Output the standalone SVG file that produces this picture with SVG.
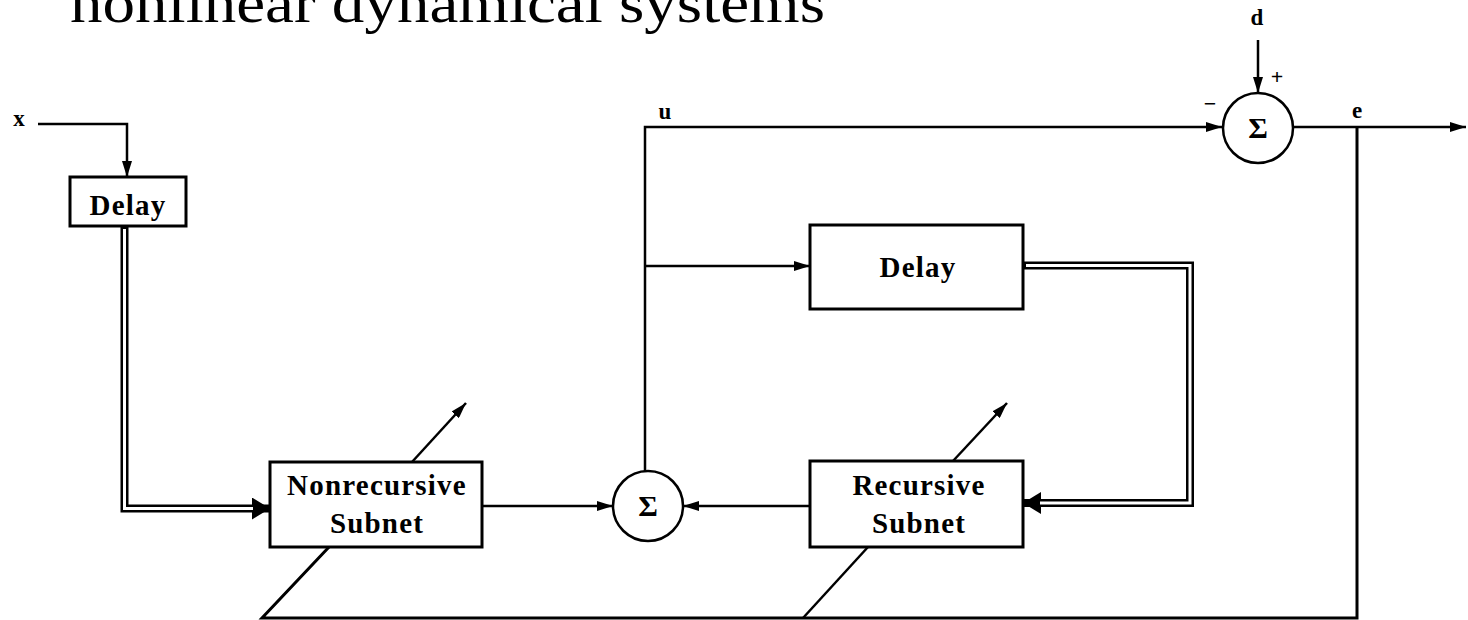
<svg xmlns="http://www.w3.org/2000/svg" width="1468" height="620" viewBox="0 0 1468 620">
  <style>
    .ln { fill: none; stroke: #000; stroke-width: 2.5; stroke-linejoin: miter; }
    .box { fill: #fff; stroke: #000; stroke-width: 3; }
    .sum { fill: #fff; stroke: #000; stroke-width: 2.5; }
    .dblk { fill: none; stroke: #000; stroke-width: 8; stroke-linejoin: miter; }
    .dwht { fill: none; stroke: #fff; stroke-width: 3; stroke-linejoin: miter; }
    .lbl { font-family: "Liberation Serif", "Times New Roman", serif; font-weight: bold; font-size: 29px; letter-spacing: 1.2px; text-anchor: middle; fill: #000; }
    .sig { font-family: "Liberation Serif", "Times New Roman", serif; font-weight: bold; font-size: 30px; text-anchor: middle; fill: #000; }
    .sm { font-family: "Liberation Serif", "Times New Roman", serif; font-weight: bold; font-size: 23px; text-anchor: middle; fill: #000; }
    .title { font-family: "Liberation Serif", "Times New Roman", serif; font-size: 56px; fill: #000; }
  </style>
  <defs>
    <marker id="arr" markerUnits="userSpaceOnUse" markerWidth="16" markerHeight="10" refX="16" refY="5" orient="auto">
      <path d="M0,0 L16,5 L0,10 Z" fill="#000"/>
    </marker>
    <marker id="arrBig" markerUnits="userSpaceOnUse" markerWidth="18" markerHeight="22" refX="18" refY="11" orient="auto">
      <path d="M0,0 L18,11 L0,22 Z" fill="#000"/>
    </marker>
  </defs>

  <text class="title" x="70" y="22" textLength="755" lengthAdjust="spacingAndGlyphs">nonlinear dynamical systems</text>

  <g id="connectors">
    <path class="ln" d="M38,124 H127 V177" marker-end="url(#arr)"/>
    <path class="ln" d="M1258,40 V93" marker-end="url(#arr)"/>
    <path class="ln" d="M645,471 V127 H1222" marker-end="url(#arr)"/>
    <path class="ln" d="M645,266 H810" marker-end="url(#arr)"/>
    <path class="ln" d="M1293,127 H1466" marker-end="url(#arr)"/>
    <path class="ln" d="M482,506 H613" marker-end="url(#arr)"/>
    <path class="ln" d="M810,506 H683" marker-end="url(#arr)"/>
    <path class="ln" d="M1357,127 V618 H262 L329,547" style="stroke-width:3"/>
    <path class="ln" d="M803,618 L868,547"/>
    <path class="ln" d="M412,462 L466,403" marker-end="url(#arr)"/>
    <path class="ln" d="M953,461 L1007,403" marker-end="url(#arr)"/>
    <path class="dblk" d="M124.5,227 V508.5 H270" marker-end="url(#arrBig)"/>
    <path class="dwht" d="M124.5,229 V508.5 H253"/>
    <path class="dblk" d="M1024,265.5 H1190 V503 H1023" marker-end="url(#arrBig)"/>
    <path class="dwht" d="M1026,265.5 H1190 V503 H1040"/>
  </g>

  <g id="delay1">
    <rect class="box" x="70" y="177" width="116" height="49"/>
    <text class="lbl" x="128" y="215">Delay</text>
  </g>
  <g id="delay2">
    <rect class="box" x="810" y="225" width="213" height="84"/>
    <text class="lbl" x="918" y="277">Delay</text>
  </g>
  <g id="nonrecursive">
    <rect class="box" x="270" y="462" width="212" height="85"/>
    <text class="lbl" x="377" y="495">Nonrecursive</text>
    <text class="lbl" x="377" y="533">Subnet</text>
  </g>
  <g id="recursive">
    <rect class="box" x="810" y="461" width="213" height="86"/>
    <text class="lbl" x="919" y="495">Recursive</text>
    <text class="lbl" x="919" y="533">Subnet</text>
  </g>
  <g id="sum1">
    <circle class="sum" cx="648" cy="506" r="35"/>
    <text class="sig" x="648" y="516">Σ</text>
  </g>
  <g id="sum2">
    <circle class="sum" cx="1258" cy="128" r="35"/>
    <text class="sig" x="1258" y="138">Σ</text>
  </g>

  <g id="labels">
    <text class="sm" x="19" y="126">x</text>
    <text class="sm" x="665" y="119">u</text>
    <text class="sm" x="1257" y="25">d</text>
    <text class="sm" x="1357" y="118">e</text>
    <text class="sm" x="1277" y="84" style="font-size:22px">+</text>
    <text class="sm" x="1210" y="111" style="font-size:22px">−</text>
  </g>
</svg>
